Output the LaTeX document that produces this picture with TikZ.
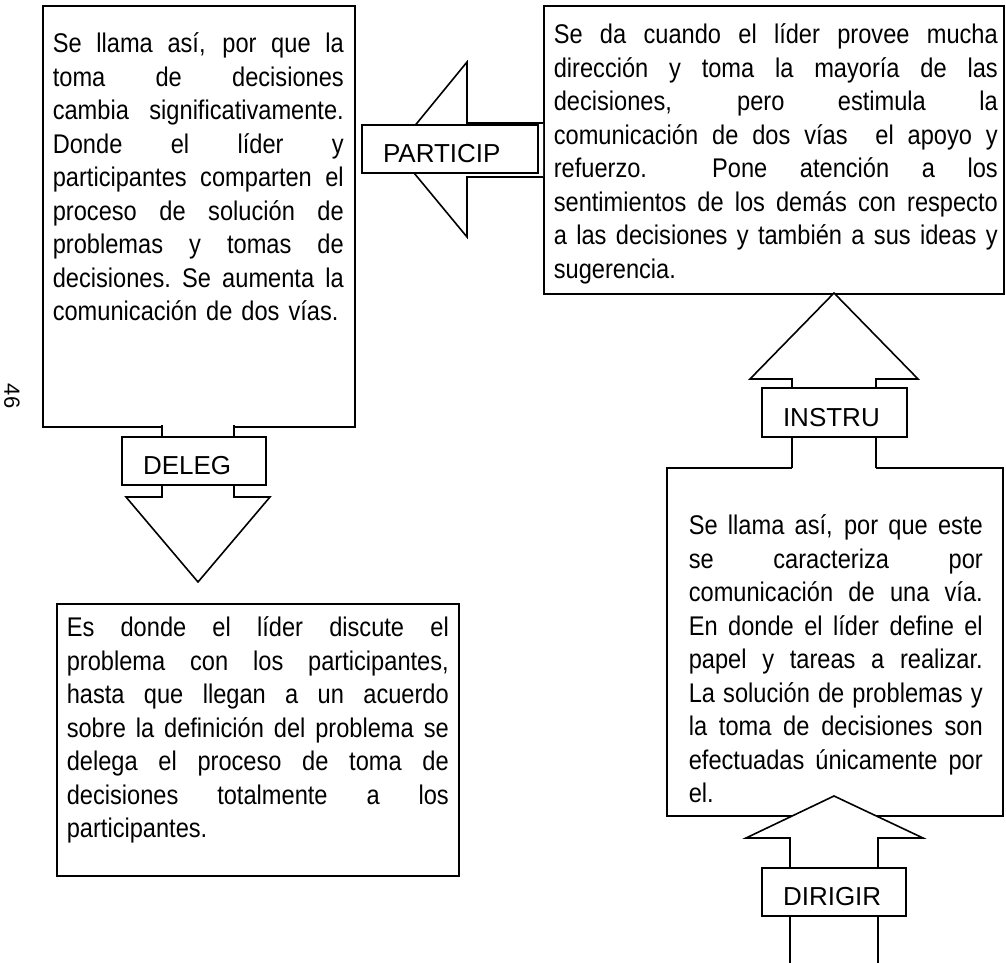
\documentclass[tikz,border=0pt]{standalone}
\usepackage{fontspec}
\setmainfont{Liberation Sans}
\newfontfamily\bodyfont[FakeStretch=0.875]{Liberation Sans}
\setlength\parindent{0pt}
\newlength\jw
\newcommand\jl[1]{{\spaceskip=\fontdimen2\font plus 1fil\relax
  \xspaceskip=\fontdimen2\font plus 1fil\relax
  \makebox[\jw][s]{#1}}\par}
\newcommand\fl{\rule{0pt}{24pt}}
\begin{document}
\begin{tikzpicture}[x=1pt,y=-1pt,line width=1.6pt,
  frame/.style={draw=black, fill=white, line width=1.6pt, inner sep=0pt, anchor=north west},
  body/.style={inner sep=0pt, anchor=north west, font=\bodyfont\fontsize{27}{33.5}\selectfont},
  lbl/.style={draw=black, fill=white, line width=1.6pt, inner xsep=21pt, inner ysep=0pt,
    align=left, text height=29pt, text depth=2pt, minimum height=48pt,
    font=\fontsize{26}{30}\selectfont},
  shaft/.style={draw=black, line width=1.6pt, line cap=rect},
  head/.style={draw=black, fill=white, line width=1.6pt}]
\useasboundingbox (0,0) rectangle (1006,963);

% boxes
\node[frame, minimum width=312pt, minimum height=421pt] (boxA) at (42,5) {};
\node[frame, minimum width=460pt, minimum height=288pt] (boxB) at (543,5) {};
\node[frame, minimum width=402pt, minimum height=272pt] (boxC) at (56,603) {};
\node[frame, minimum width=336pt, minimum height=348pt] (boxD) at (666,467) {};

% texts
\node[body, text width=291pt] (tA) at (52,28) {\setlength\jw{291pt}%
\jl{\fl Se llama así, por que la}%
\jl{toma de decisiones}%
\jl{cambia significativamente.}%
\jl{Donde el líder y}%
\jl{participantes comparten el}%
\jl{proceso de solución de}%
\jl{problemas y tomas de}%
\jl{decisiones. Se aumenta la}%
comunicación de dos vías.};

\node[body, text width=444pt] (tB) at (553,19) {\setlength\jw{444pt}%
\jl{\fl Se da cuando el líder provee mucha}%
\jl{dirección y toma la mayoría de las}%
\jl{decisiones, pero estimula la}%
\jl{comunicación de dos vías\ \ el apoyo y}%
\jl{refuerzo.\ \ Pone atención a los}%
\jl{sentimientos de los demás con respecto}%
\jl{a las decisiones y también a sus ideas y}%
sugerencia.};

\node[body, text width=382pt] (tC) at (66,612) {\setlength\jw{382pt}%
\jl{\fl Es donde el líder discute el}%
\jl{problema con los participantes,}%
\jl{hasta que llegan a un acuerdo}%
\jl{sobre la definición del problema se}%
\jl{delega el proceso de toma de}%
\jl{decisiones totalmente a los}%
participantes.};

\node[body, text width=294pt] (tD) at (688,510) {\setlength\jw{294pt}%
\jl{\fl Se llama así, por que este}%
\jl{se caracteriza por}%
\jl{comunicación de una vía.}%
\jl{En donde el líder define el}%
\jl{papel y tareas a realizar.}%
\jl{La solución de problemas y}%
\jl{la toma de decisiones son}%
\jl{efectuadas únicamente por}%
el.};

\node[rotate=-90, font=\fontsize{22}{22}\selectfont, inner sep=0pt] (pg) at (12,396) {46};

% PARTICIP arrow (pointing left)
\draw[head] (543,123) -- (467,123) -- (467,62) -- (395,150) -- (467,237) -- (467,177) -- (543,177);

% DELEG arrow (pointing down)
\fill[white] (162,419) rectangle (234,437);
\draw[shaft] (162,426) -- (162,437) (234,426) -- (234,437);
\draw[head] (162,485) -- (162,497) -- (126,497) -- (198,582) -- (270,497) -- (234,497) -- (234,485);

% INSTRU arrow (pointing up)
\fill[white] (792,379) rectangle (876,471);
\draw[shaft] (792,467) -- (792,437) (876,467) -- (876,437);
\draw[head] (792,388) -- (792,379) -- (750,379) -- (834,293) -- (918,379) -- (876,379) -- (876,388);

% DIRIGIR arrow (pointing up)
\draw[head] (790,963) -- (790,838) -- (746,838) -- (834,796) -- (923,838) -- (878,838) -- (878,963);

% labels
\node[lbl, text width=134pt] (lP) at (450,149) {PARTICIP};
\node[lbl, text width=102pt] (lD) at (194,461) {DELEG};
\node[lbl, text width=103pt, minimum height=49pt] (lI) at (834.5,412.5) {INSTRU};
\node[lbl, text width=102pt] (lR) at (834,892) {DIRIGIR};
\end{tikzpicture}
\end{document}
